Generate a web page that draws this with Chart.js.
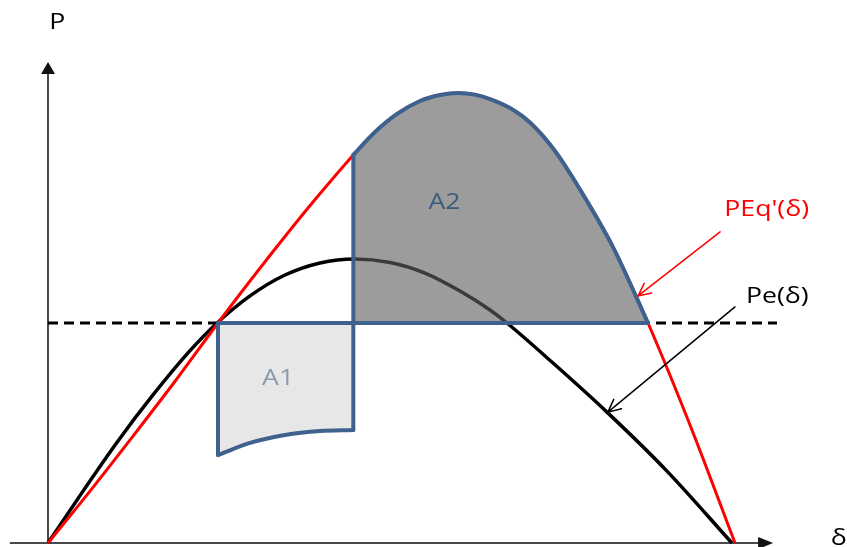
<!DOCTYPE html>
<html>
<head>
<meta charset="utf-8">
<script src="https://cdn.jsdelivr.net/npm/chart.js@4.4.1/dist/chart.umd.min.js"></script>
<style>
  html, body { margin: 0; padding: 0; background: #ffffff; }
  #wrap { width: 847px; height: 547px; position: relative; }
</style>
</head>
<body>
<div id="wrap"><canvas id="chart"></canvas></div>
<script>
// Power–angle curves. Rotor angle δ in degrees, power in per unit of the mechanical power Pm.
// Steady-state electrical power Pe(δ)
const peDelta = [0, 9.17, 18.34, 27.51, 36.68, 43.76, 52.93, 62.10, 71.27, 80.44, 89.61, 98.78, 107.95, 115.81, 120.26, 132.32, 146.46, 162.18, 179.21];
const peValue = [0, 0.236, 0.464, 0.673, 0.864, 0.991, 1.123, 1.218, 1.273, 1.291, 1.275, 1.227, 1.145, 1.059, 1.0, 0.818, 0.595, 0.327, 0];

// Transient power PEq'(δ)
const pqDelta = [0, 11.00, 22.27, 33.54, 44.54, 52.93, 61.57, 70.74, 80.0, 85.68, 91.44, 97.47, 102.71, 107.42, 111.88, 115.81, 121.05, 126.29, 132.84, 139.39, 148.04, 157.21, 168.73, 180.0];
const pqValue = [0, 0.236, 0.486, 0.741, 1.0, 1.191, 1.382, 1.577, 1.764, 1.868, 1.950, 2.009, 2.036, 2.045, 2.038, 2.018, 1.977, 1.911, 1.782, 1.607, 1.345, 1.0, 0.514, 0];

// Power transferred while the fault is on, from δ0 to the clearing angle
const faultDelta = [44.54, 52.93, 62.10, 71.27, 80.0];
const faultValue = [0.400, 0.455, 0.491, 0.509, 0.514];

// Operating points
const mechanicalPower = 1.0;   // Pm (dashed line)
const deltaStart = 44.54;      // δ0
const deltaClear = 80.0;       // clearing angle
const deltaMax = 157.21;       // maximum swing angle
const dashEnd = 191.0;

// Texts
const areaLabels = ['A1', 'A2'];
const curveLabels = ["PEq'(δ)", 'Pe(δ)'];
const axisLabels = ['P', 'δ'];

// ---- helpers ----
const toPoints = (xs, ys) => xs.map((x, i) => ({ x, y: ys[i] }));

const pqPoints = toPoints(pqDelta, pqValue);
const pePoints = toPoints(peDelta, peValue);
const faultPoints = toPoints(faultDelta, faultValue);

// Accelerating/decelerating area boundaries
const a2Top = pqPoints.filter(p => p.x >= deltaClear && p.x <= deltaMax);
const a2Edges = [
  { x: deltaMax, y: mechanicalPower },
  { x: deltaClear, y: mechanicalPower },
  { x: deltaClear, y: a2Top[0].y }
];
const a1Edges = [
  { x: deltaStart, y: faultValue[0] },
  { x: deltaStart, y: mechanicalPower },
  { x: deltaClear, y: mechanicalPower },
  { x: deltaClear, y: faultValue[faultValue.length - 1] }
];

const BLUE = '#3F618E';
const CLEAR = 'rgba(0,0,0,0)';

const outline = (data, curved) => ({
  data,
  borderColor: BLUE,
  borderWidth: 4,
  borderJoinStyle: 'round',
  borderCapStyle: 'round',
  cubicInterpolationMode: curved ? 'monotone' : 'default',
  tension: 0,
  fill: false
});

const datasets = [
  outline(a2Top, true),
  outline(a2Edges, false),
  outline(faultPoints, true),
  outline(a1Edges, false),
  { // A2 area
    data: a2Top, borderColor: CLEAR, borderWidth: 0, cubicInterpolationMode: 'monotone',
    backgroundColor: 'rgba(96,96,96,0.62)', fill: { value: mechanicalPower }
  },
  { // A1 area
    data: faultPoints, borderColor: CLEAR, borderWidth: 0, cubicInterpolationMode: 'monotone',
    backgroundColor: '#E7E7E7', fill: { value: mechanicalPower }
  },
  { // PEq'(δ)
    data: pqPoints, borderColor: '#FF0000', borderWidth: 3,
    cubicInterpolationMode: 'monotone', fill: false
  },
  { // Pe(δ)
    data: pePoints, borderColor: '#000000', borderWidth: 3.5,
    cubicInterpolationMode: 'monotone', fill: false
  },
  { // Pm
    data: [{ x: 0, y: mechanicalPower }, { x: dashEnd, y: mechanicalPower }],
    borderColor: '#000000', borderWidth: 3, borderDash: [10, 6], fill: false
  }
];

// Axis ranges (δ in degrees, P in per unit)
const X_MIN = -12.58, X_MAX = 209.35;
const Y_MIN = -0.018, Y_MAX = 2.468;

// Arrowed axes
const axesPlugin = {
  id: 'arrowAxes',
  beforeDatasetsDraw(chart) {
    const { ctx, scales: { x, y } } = chart;
    const x0 = x.getPixelForValue(0);
    const y0 = y.getPixelForValue(0);
    const xStart = x.getPixelForValue(-10);
    const xTip = x.getPixelForValue(190);
    const yTip = y.getPixelForValue(2.186);
    ctx.save();
    ctx.strokeStyle = '#4a4a4a';
    ctx.lineWidth = 2;
    ctx.beginPath();
    ctx.moveTo(xStart, y0); ctx.lineTo(xTip - 12, y0);
    ctx.moveTo(x0, y0); ctx.lineTo(x0, yTip + 10);
    ctx.stroke();
    ctx.fillStyle = '#111111';
    ctx.beginPath();
    ctx.moveTo(xTip, y0); ctx.lineTo(xTip - 15, y0 - 6); ctx.lineTo(xTip - 15, y0 + 6);
    ctx.closePath(); ctx.fill();
    ctx.beginPath();
    ctx.moveTo(x0, yTip); ctx.lineTo(x0 - 7, yTip + 12); ctx.lineTo(x0 + 7, yTip + 12);
    ctx.closePath(); ctx.fill();
    ctx.restore();
  }
};

// Labels and pointer arrows
const texts = [
  { text: areaLabels[0], x: 60.3, y: 0.718, color: '#8B99AE' },
  { text: areaLabels[1], x: 103.9, y: 1.516, color: '#3E5A7E' },
  { text: curveLabels[0], x: 188.3, y: 1.486, color: '#FF0000' },
  { text: curveLabels[1], x: 191.1, y: 1.093, color: '#000000' },
  { text: axisLabels[0], x: 2.4, y: 2.336, color: '#000000' },
  { text: axisLabels[1], x: 207.2, y: -0.009, color: '#000000' }
];
const pointers = [
  { from: [176.1, 1.414], to: [154.6, 1.123], color: '#FF0000' },
  { from: [180.0, 1.073], to: [146.7, 0.595], color: '#000000' }
];

const labelPlugin = {
  id: 'diagramLabels',
  afterDatasetsDraw(chart) {
    const { ctx, scales: { x, y } } = chart;
    ctx.save();
    pointers.forEach(p => {
      const x1 = x.getPixelForValue(p.from[0]), y1 = y.getPixelForValue(p.from[1]);
      const x2 = x.getPixelForValue(p.to[0]), y2 = y.getPixelForValue(p.to[1]);
      const ang = Math.atan2(y2 - y1, x2 - x1);
      const len = 14, spread = 0.45;
      ctx.strokeStyle = p.color;
      ctx.lineWidth = 1.5;
      ctx.lineCap = 'round';
      ctx.beginPath();
      ctx.moveTo(x1, y1); ctx.lineTo(x2, y2);
      ctx.moveTo(x2 - len * Math.cos(ang - spread), y2 - len * Math.sin(ang - spread));
      ctx.lineTo(x2, y2);
      ctx.lineTo(x2 - len * Math.cos(ang + spread), y2 - len * Math.sin(ang + spread));
      ctx.stroke();
    });
    ctx.font = '21px "Open Sans", "Noto Sans", sans-serif';
    ctx.textAlign = 'center';
    ctx.textBaseline = 'alphabetic';
    texts.forEach(t => {
      ctx.save();
      ctx.translate(x.getPixelForValue(t.x), y.getPixelForValue(t.y));
      ctx.scale(1.27, 1);
      ctx.fillStyle = t.color;
      ctx.fillText(t.text, 0, 0);
      ctx.restore();
    });
    ctx.restore();
  }
};

new Chart(document.getElementById('chart'), {
  type: 'line',
  data: { datasets },
  options: {
    responsive: true,
    maintainAspectRatio: false,
    animation: false,
    parsing: false,
    layout: { padding: 0 },
    elements: { point: { radius: 0, hoverRadius: 0 } },
    scales: {
      x: { type: 'linear', min: X_MIN, max: X_MAX, display: false },
      y: { type: 'linear', min: Y_MIN, max: Y_MAX, display: false }
    },
    plugins: {
      legend: { display: false },
      tooltip: { enabled: false }
    }
  },
  plugins: [axesPlugin, labelPlugin]
});
</script>
</body>
</html>
